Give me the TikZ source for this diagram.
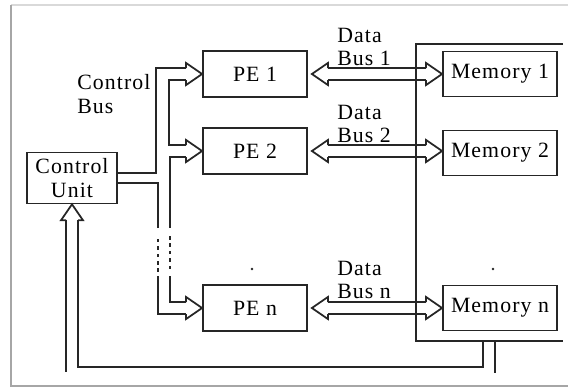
\documentclass[tikz,border=0pt]{standalone}
\usepackage{fontspec}
\setmainfont{Liberation Serif}[LetterSpace=5]
\usetikzlibrary{calc, positioning}

\tikzset{
  unitbox/.style={draw=black!85, line width=1.25pt, inner sep=0pt, align=center},
  pebox/.style={unitbox, minimum width=2.6cm, minimum height=1.15cm},
  membox/.style={unitbox, minimum width=2.85cm, minimum height=1.12cm},
  bus/.style={draw=black!85, line width=1.25pt},
  gapbus/.style={bus, line width=1.6pt, dash pattern=on 2.5pt off 2.8pt},
  buslabel/.style={align=left, anchor=west, inner sep=0pt},
  pics/hollowhead/.style={code={
    \draw[bus] (-16,-6) -- (-16,-11) -- (0,0) -- (-16,11) -- (-16,6);
  }},
}

\begin{document}
\begin{tikzpicture}[x=0.025cm, y=-0.025cm, font=\fontsize{15.5}{16.5}\selectfont]
  \useasboundingbox (0,0) rectangle (568,390);

  % Frame round the figure
  \draw[black!15, line width=1.5pt] (11,5) -- (568,5);
  \draw[black!35, line width=1.6pt] (11,5) -- (11,386) -- (568,386);

  % Units
  \node[unitbox, minimum width=2.25cm, minimum height=1.27cm] (cu) at (72,178) {Control\\Unit};
  \node[pebox] (pe1) at (255,74) {PE 1};
  \node[pebox] (pe2) at (255,151) {PE 2};
  \node[pebox] (pen) at (255,308) {PE n};
  \node[membox] (mem1) at (500,74) {Memory 1};
  \node[membox] (mem2) at (500,153) {Memory 2};
  \node[membox] (memn) at (500,308) {Memory n};

  % Memory frame
  \draw[bus] (563,44) -- (416,44) -- (416,341) -- (563,341);
  \coordinate (fb) at (483,341);

  % Labels
  \node[buslabel] (cbus) at (77,94) {Control\\Bus};
  \node[buslabel] (dbus1) at (337,47) {Data\\Bus 1};
  \node[buslabel] (dbus2) at (337,124) {Data\\Bus 2};
  \node[buslabel] (dbusn) at (337,280) {Data\\Bus n};

  % Control bus
  \draw[bus] ($(cu.east)+(0,-5)$) -| ($(pe1.west)+(-46,-6)$) -- ($(pe1.west)+(-16,-6)$);
  \pic at (pe1.west) {hollowhead};
  \draw[bus] ($(pe1.west)+(-16,6)$) -| ($(pe2.west)+(-33,-6)$) -- ($(pe2.west)+(-16,-6)$);
  \pic at (pe2.west) {hollowhead};
  \draw[bus] ($(pe2.west)+(-16,6)$) -| (170,228);
  \draw[gapbus] (170,236) -- (170,272);
  \draw[bus] (170,276) |- ($(pen.west)+(-16,-6)$);
  \pic at (pen.west) {hollowhead};
  \draw[bus] ($(pen.west)+(-16,6)$) -| (158,276);
  \draw[gapbus] (158,272) -- (158,236);
  \draw[bus] (158,228) |- ($(cu.east)+(0,5)$);

  % Data buses
  \foreach \pe/\mem in {pe1/mem1, pe2/mem2, pen/memn} {
    \pic[rotate=180] at ($(\pe.east)+(4,0)$) {hollowhead};
    \pic at (\mem.west |- \pe.east) {hollowhead};
    \draw[bus] ($(\pe.east)+(20,-6)$) -- ($(\mem.west |- \pe.east)+(-16,-6)$);
    \draw[bus] ($(\pe.east)+(20,6)$) -- ($(\mem.west |- \pe.east)+(-16,6)$);
  }

  % Feedback to the control unit
  \pic[rotate=90] at (cu.south) {hollowhead};
  \draw[bus] ($(cu.south)+(6,16)$) |- ($(fb)+(0,26)$) -- (fb);
  \draw[bus] ($(cu.south)+(-6,16)$) -- ++(0,152);
  \draw[bus] ($(fb)+(12,0)$) -- ++(0,32);

  % Ellipsis dots
  \fill[black!85] (252,269) circle (1.4);
  \fill[black!85] (493,269) circle (1.4);
\end{tikzpicture}
\end{document}
